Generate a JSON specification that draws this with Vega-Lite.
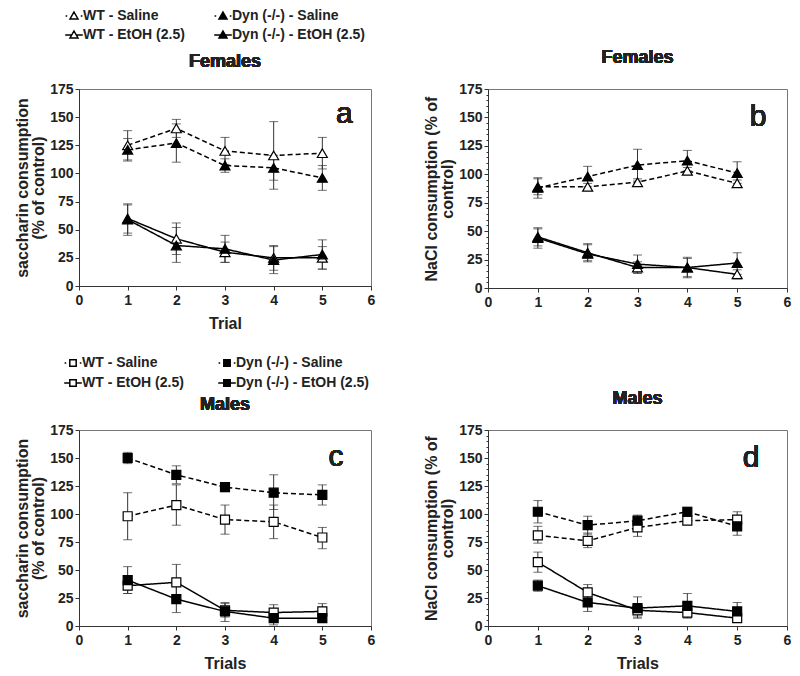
{
  "$schema": "https://vega.github.io/schema/vega-lite/v6.json",
  "background": "white",
  "padding": {"left": 14, "top": 9, "right": 5, "bottom": 5},
  "config": {
    "view": {"stroke": "#777", "strokeWidth": 1},
    "axis": {"labelFont": "Liberation Sans", "labelFontSize": 14, "labelFontWeight": "bold", "labelColor": "#222", "titleFont": "Liberation Sans", "titleFontSize": 16, "titleFontWeight": "bold", "titleColor": "#222", "domainColor": "#333", "tickColor": "#333", "tickSize": 4, "grid": false, "labelFlush": false, "labelOverlap": false, "titleLineHeight": 16},
    "axisX": {"titlePadding": 8, "labelPadding": 3},
    "axisY": {"titlePadding": 3, "labelPadding": 2},
    "legend": {"labelFont": "Liberation Sans", "labelFontSize": 14, "labelFontWeight": "bold", "labelColor": "#222", "symbolSize": 64, "symbolStrokeWidth": 1.5, "labelOffset": 2, "padding": 0, "rowPadding": 5, "columnPadding": 30, "gridAlign": "each"}
  },
  "datasets": {
    "d": [
      {"panel": "a", "series": "WT - Saline", "trial": 1, "mean": 125, "lo": 112, "hi": 138},
      {"panel": "a", "series": "WT - Saline", "trial": 2, "mean": 140, "lo": 132, "hi": 148},
      {"panel": "a", "series": "WT - Saline", "trial": 3, "mean": 120, "lo": 108, "hi": 132},
      {"panel": "a", "series": "WT - Saline", "trial": 4, "mean": 116, "lo": 86, "hi": 146},
      {"panel": "a", "series": "WT - Saline", "trial": 5, "mean": 118, "lo": 104, "hi": 132},
      {"panel": "a", "series": "Dyn (-/-) - Saline", "trial": 1, "mean": 121, "lo": 111, "hi": 131},
      {"panel": "a", "series": "Dyn (-/-) - Saline", "trial": 2, "mean": 127, "lo": 110, "hi": 144},
      {"panel": "a", "series": "Dyn (-/-) - Saline", "trial": 3, "mean": 107, "lo": 101, "hi": 113},
      {"panel": "a", "series": "Dyn (-/-) - Saline", "trial": 4, "mean": 105, "lo": 94, "hi": 116},
      {"panel": "a", "series": "Dyn (-/-) - Saline", "trial": 5, "mean": 96, "lo": 85, "hi": 107},
      {"panel": "a", "series": "WT - EtOH (2.5)", "trial": 1, "mean": 60, "lo": 47, "hi": 73},
      {"panel": "a", "series": "WT - EtOH (2.5)", "trial": 2, "mean": 42, "lo": 28, "hi": 56},
      {"panel": "a", "series": "WT - EtOH (2.5)", "trial": 3, "mean": 30, "lo": 21, "hi": 39},
      {"panel": "a", "series": "WT - EtOH (2.5)", "trial": 4, "mean": 25, "lo": 14, "hi": 36},
      {"panel": "a", "series": "WT - EtOH (2.5)", "trial": 5, "mean": 25, "lo": 15, "hi": 35},
      {"panel": "a", "series": "Dyn (-/-) - EtOH (2.5)", "trial": 1, "mean": 59, "lo": 45, "hi": 72},
      {"panel": "a", "series": "Dyn (-/-) - EtOH (2.5)", "trial": 2, "mean": 36, "lo": 21, "hi": 52},
      {"panel": "a", "series": "Dyn (-/-) - EtOH (2.5)", "trial": 3, "mean": 33, "lo": 21, "hi": 45},
      {"panel": "a", "series": "Dyn (-/-) - EtOH (2.5)", "trial": 4, "mean": 23, "lo": 11, "hi": 35},
      {"panel": "a", "series": "Dyn (-/-) - EtOH (2.5)", "trial": 5, "mean": 28, "lo": 15, "hi": 41},

      {"panel": "b", "series": "WT - Saline", "trial": 1, "mean": 89, "lo": 82, "hi": 96},
      {"panel": "b", "series": "WT - Saline", "trial": 2, "mean": 89, "lo": 86, "hi": 92},
      {"panel": "b", "series": "WT - Saline", "trial": 3, "mean": 93, "lo": 90, "hi": 96},
      {"panel": "b", "series": "WT - Saline", "trial": 4, "mean": 103, "lo": 100, "hi": 106},
      {"panel": "b", "series": "WT - Saline", "trial": 5, "mean": 92, "lo": 89, "hi": 95},
      {"panel": "b", "series": "Dyn (-/-) - Saline", "trial": 1, "mean": 88, "lo": 79, "hi": 97},
      {"panel": "b", "series": "Dyn (-/-) - Saline", "trial": 2, "mean": 98, "lo": 89, "hi": 107},
      {"panel": "b", "series": "Dyn (-/-) - Saline", "trial": 3, "mean": 108, "lo": 94, "hi": 122},
      {"panel": "b", "series": "Dyn (-/-) - Saline", "trial": 4, "mean": 112, "lo": 103, "hi": 121},
      {"panel": "b", "series": "Dyn (-/-) - Saline", "trial": 5, "mean": 101, "lo": 92, "hi": 111},
      {"panel": "b", "series": "WT - EtOH (2.5)", "trial": 1, "mean": 45, "lo": 37, "hi": 53},
      {"panel": "b", "series": "WT - EtOH (2.5)", "trial": 2, "mean": 31, "lo": 24, "hi": 38},
      {"panel": "b", "series": "WT - EtOH (2.5)", "trial": 3, "mean": 18, "lo": 13, "hi": 23},
      {"panel": "b", "series": "WT - EtOH (2.5)", "trial": 4, "mean": 18, "lo": 10, "hi": 26},
      {"panel": "b", "series": "WT - EtOH (2.5)", "trial": 5, "mean": 12, "lo": 8, "hi": 16},
      {"panel": "b", "series": "Dyn (-/-) - EtOH (2.5)", "trial": 1, "mean": 44, "lo": 35, "hi": 52},
      {"panel": "b", "series": "Dyn (-/-) - EtOH (2.5)", "trial": 2, "mean": 30, "lo": 23, "hi": 39},
      {"panel": "b", "series": "Dyn (-/-) - EtOH (2.5)", "trial": 3, "mean": 21, "lo": 13, "hi": 29},
      {"panel": "b", "series": "Dyn (-/-) - EtOH (2.5)", "trial": 4, "mean": 18, "lo": 9, "hi": 27},
      {"panel": "b", "series": "Dyn (-/-) - EtOH (2.5)", "trial": 5, "mean": 22, "lo": 12, "hi": 31},

      {"panel": "c", "series": "WT - Saline", "trial": 1, "mean": 98, "lo": 77, "hi": 119},
      {"panel": "c", "series": "WT - Saline", "trial": 2, "mean": 108, "lo": 90, "hi": 126},
      {"panel": "c", "series": "WT - Saline", "trial": 3, "mean": 95, "lo": 82, "hi": 108},
      {"panel": "c", "series": "WT - Saline", "trial": 4, "mean": 93, "lo": 78, "hi": 108},
      {"panel": "c", "series": "WT - Saline", "trial": 5, "mean": 79, "lo": 69, "hi": 88},
      {"panel": "c", "series": "Dyn (-/-) - Saline", "trial": 1, "mean": 150, "lo": 145, "hi": 155},
      {"panel": "c", "series": "Dyn (-/-) - Saline", "trial": 2, "mean": 135, "lo": 127, "hi": 143},
      {"panel": "c", "series": "Dyn (-/-) - Saline", "trial": 3, "mean": 124, "lo": 120, "hi": 128},
      {"panel": "c", "series": "Dyn (-/-) - Saline", "trial": 4, "mean": 119, "lo": 104, "hi": 135},
      {"panel": "c", "series": "Dyn (-/-) - Saline", "trial": 5, "mean": 117, "lo": 108, "hi": 126},
      {"panel": "c", "series": "WT - EtOH (2.5)", "trial": 1, "mean": 36, "lo": 29, "hi": 43},
      {"panel": "c", "series": "WT - EtOH (2.5)", "trial": 2, "mean": 39, "lo": 23, "hi": 55},
      {"panel": "c", "series": "WT - EtOH (2.5)", "trial": 3, "mean": 14, "lo": 8, "hi": 20},
      {"panel": "c", "series": "WT - EtOH (2.5)", "trial": 4, "mean": 12, "lo": 5, "hi": 19},
      {"panel": "c", "series": "WT - EtOH (2.5)", "trial": 5, "mean": 13, "lo": 6, "hi": 20},
      {"panel": "c", "series": "Dyn (-/-) - EtOH (2.5)", "trial": 1, "mean": 41, "lo": 29, "hi": 53},
      {"panel": "c", "series": "Dyn (-/-) - EtOH (2.5)", "trial": 2, "mean": 24, "lo": 12, "hi": 36},
      {"panel": "c", "series": "Dyn (-/-) - EtOH (2.5)", "trial": 3, "mean": 13, "lo": 4, "hi": 21},
      {"panel": "c", "series": "Dyn (-/-) - EtOH (2.5)", "trial": 4, "mean": 7, "lo": 1, "hi": 13},
      {"panel": "c", "series": "Dyn (-/-) - EtOH (2.5)", "trial": 5, "mean": 7, "lo": 4, "hi": 10},

      {"panel": "d", "series": "WT - Saline", "trial": 1, "mean": 81, "lo": 74, "hi": 89},
      {"panel": "d", "series": "WT - Saline", "trial": 2, "mean": 76, "lo": 70, "hi": 83},
      {"panel": "d", "series": "WT - Saline", "trial": 3, "mean": 88, "lo": 80, "hi": 96},
      {"panel": "d", "series": "WT - Saline", "trial": 4, "mean": 94, "lo": 91, "hi": 98},
      {"panel": "d", "series": "WT - Saline", "trial": 5, "mean": 95, "lo": 87, "hi": 102},
      {"panel": "d", "series": "Dyn (-/-) - Saline", "trial": 1, "mean": 102, "lo": 92, "hi": 112},
      {"panel": "d", "series": "Dyn (-/-) - Saline", "trial": 2, "mean": 90, "lo": 82, "hi": 98},
      {"panel": "d", "series": "Dyn (-/-) - Saline", "trial": 3, "mean": 94, "lo": 88, "hi": 99},
      {"panel": "d", "series": "Dyn (-/-) - Saline", "trial": 4, "mean": 102, "lo": 98, "hi": 106},
      {"panel": "d", "series": "Dyn (-/-) - Saline", "trial": 5, "mean": 89, "lo": 81, "hi": 97},
      {"panel": "d", "series": "WT - EtOH (2.5)", "trial": 1, "mean": 57, "lo": 48, "hi": 66},
      {"panel": "d", "series": "WT - EtOH (2.5)", "trial": 2, "mean": 30, "lo": 22, "hi": 37},
      {"panel": "d", "series": "WT - EtOH (2.5)", "trial": 3, "mean": 14, "lo": 8, "hi": 20},
      {"panel": "d", "series": "WT - EtOH (2.5)", "trial": 4, "mean": 12, "lo": 7, "hi": 17},
      {"panel": "d", "series": "WT - EtOH (2.5)", "trial": 5, "mean": 7, "lo": 5, "hi": 9},
      {"panel": "d", "series": "Dyn (-/-) - EtOH (2.5)", "trial": 1, "mean": 36, "lo": 31, "hi": 41},
      {"panel": "d", "series": "Dyn (-/-) - EtOH (2.5)", "trial": 2, "mean": 21, "lo": 13, "hi": 30},
      {"panel": "d", "series": "Dyn (-/-) - EtOH (2.5)", "trial": 3, "mean": 16, "lo": 7, "hi": 26},
      {"panel": "d", "series": "Dyn (-/-) - EtOH (2.5)", "trial": 4, "mean": 18, "lo": 8, "hi": 29},
      {"panel": "d", "series": "Dyn (-/-) - EtOH (2.5)", "trial": 5, "mean": 13, "lo": 5, "hi": 21}
    ]
  },
  "data": {"name": "d"},
  "columns": 2,
  "bounds": "flush",
  "align": "each",
  "spacing": {"row": 20, "column": 117},
  "resolve": {"scale": {"shape": "independent", "fill": "independent", "stroke": "independent", "strokeDash": "independent"}, "legend": {"shape": "independent", "fill": "independent", "stroke": "independent"}},
  "concat": [
    {
      "width": 292, "height": 60,
      "view": {"stroke": null},
      "transform": [{"filter": "false"}],
      "mark": {"type": "point", "filled": true, "stroke": "black", "strokeWidth": 1.5, "opacity": 1},
      "encoding": {
        "shape": {"field": "series", "type": "nominal", "scale": {"domain": ["WT - Saline", "Dyn (-/-) - Saline", "WT - EtOH (2.5)", "Dyn (-/-) - EtOH (2.5)"], "range": ["M-2.1,0L-1.7,0M1.7,0L2.1,0M0,-1L1,0.75L-1,0.75Z", "M-2.1,0L-1.7,0M1.7,0L2.1,0M0,-1L1,0.75L-1,0.75Z", "M-2.2,0L-0.57,0M0.57,0L2.2,0M0,-1L1,0.75L-1,0.75Z", "M-2.2,0L-0.57,0M0.57,0L2.2,0M0,-1L1,0.75L-1,0.75Z"]},
          "legend": {"title": null, "orient": "none", "direction": "horizontal", "legendX": -12, "legendY": 0, "columns": 2, "columnPadding": 26, "rowPadding": 5}},
        "stroke": {"field": "series", "type": "nominal", "scale": {"domain": ["WT - Saline", "Dyn (-/-) - Saline", "WT - EtOH (2.5)", "Dyn (-/-) - EtOH (2.5)"], "range": ["black", "black", "black", "black"]},
          "legend": {"title": null, "orient": "none", "direction": "horizontal", "legendX": -12, "legendY": 0, "columns": 2, "columnPadding": 26, "rowPadding": 5}},
        "fill": {"field": "series", "type": "nominal", "scale": {"domain": ["WT - Saline", "Dyn (-/-) - Saline", "WT - EtOH (2.5)", "Dyn (-/-) - EtOH (2.5)"], "range": ["white", "black", "white", "black"]},
          "legend": {"title": null, "orient": "none", "direction": "horizontal", "legendX": -12, "legendY": 0, "columns": 2, "columnPadding": 26, "rowPadding": 5}}
      }
    },
    {
      "width": 299, "height": 60,
      "view": {"stroke": null},
      "transform": [{"filter": "false"}],
      "mark": {"type": "point", "opacity": 0},
      "encoding": {}
    },
    {
      "width": 292, "height": 197,
      "transform": [{"filter": "datum.panel == 'a'"}],
      "layer": [
        {"mark": {"type": "errorbar", "ticks": {"size": 9}, "color": "#333", "thickness": 1},
         "encoding": {
           "x": {"field": "trial", "type": "quantitative", "scale": {"domain": [0, 6], "nice": false}, "axis": null},
           "y": {"field": "lo", "type": "quantitative", "scale": {"domain": [0, 175], "nice": false}, "axis": null},
           "y2": {"field": "hi"},
           "detail": {"field": "series"}}},
        {"mark": {"type": "line", "color": "black", "strokeWidth": 1.5},
         "encoding": {
           "x": {"field": "trial", "type": "quantitative", "scale": {"domain": [0, 6], "nice": false}, "axis": {"orient": "bottom", "values": [0, 1, 2, 3, 4, 5, 6], "title": "Trial"}},
           "y": {"field": "mean", "type": "quantitative", "scale": {"domain": [0, 175], "nice": false}, "axis": {"orient": "left", "values": [0, 25, 50, 75, 100, 125, 150, 175], "title": ["saccharin consumption", "(% of control)"]}},
           "strokeDash": {"field": "series", "type": "nominal", "scale": {"domain": ["WT - Saline", "Dyn (-/-) - Saline", "WT - EtOH (2.5)", "Dyn (-/-) - EtOH (2.5)"], "range": [[5, 3], [5, 3], [1, 0], [1, 0]]}, "legend": null}}},
        {"mark": {"type": "point", "shape": "triangle-up", "filled": true, "size": 100, "stroke": "black", "strokeWidth": 1.2, "opacity": 1},
         "encoding": {
           "x": {"field": "trial", "type": "quantitative", "axis": null},
           "y": {"field": "mean", "type": "quantitative", "axis": {"orient": "left", "values": [5, 10], "labels": false, "domain": false, "ticks": false, "title": null}},
           "fill": {"field": "series", "type": "nominal", "scale": {"domain": ["WT - Saline", "Dyn (-/-) - Saline", "WT - EtOH (2.5)", "Dyn (-/-) - EtOH (2.5)"], "range": ["white", "black", "white", "black"]}, "legend": null}}},
        {"mark": {"type": "text", "text": "a", "fontSize": 30, "fontWeight": "normal", "font": "Liberation Sans", "baseline": "alphabetic", "align": "center", "color": "#222"},
         "encoding": {"x": {"datum": 5.45, "type": "quantitative", "axis": null}, "y": {"datum": 145, "type": "quantitative", "axis": null}}},
        {"mark": {"type": "text", "text": "Females", "fontSize": 18, "fontWeight": "bold", "font": "Liberation Sans", "baseline": "middle", "align": "center", "color": "#222"},
         "encoding": {"x": {"datum": 3, "type": "quantitative", "axis": null}, "y": {"datum": 199.2, "type": "quantitative", "axis": null}}}
      ],
      "resolve": {"axis": {"x": "independent", "y": "independent"}}
    },
    {
      "width": 299, "height": 199,
      "transform": [{"filter": "datum.panel == 'b'"}],
      "layer": [
        {"mark": {"type": "errorbar", "ticks": {"size": 9}, "color": "#333", "thickness": 1},
         "encoding": {
           "x": {"field": "trial", "type": "quantitative", "scale": {"domain": [0, 6], "nice": false}, "axis": null},
           "y": {"field": "lo", "type": "quantitative", "scale": {"domain": [0, 175], "nice": false}, "axis": null},
           "y2": {"field": "hi"},
           "detail": {"field": "series"}}},
        {"mark": {"type": "line", "color": "black", "strokeWidth": 1.5},
         "encoding": {
           "x": {"field": "trial", "type": "quantitative", "scale": {"domain": [0, 6], "nice": false}, "axis": {"orient": "bottom", "values": [0, 1, 2, 3, 4, 5, 6], "title": null}},
           "y": {"field": "mean", "type": "quantitative", "scale": {"domain": [0, 175], "nice": false}, "axis": {"orient": "left", "values": [0, 25, 50, 75, 100, 125, 150, 175], "title": ["NaCl consumption (% of", "control)"]}},
           "strokeDash": {"field": "series", "type": "nominal", "scale": {"domain": ["WT - Saline", "Dyn (-/-) - Saline", "WT - EtOH (2.5)", "Dyn (-/-) - EtOH (2.5)"], "range": [[5, 3], [5, 3], [1, 0], [1, 0]]}, "legend": null}}},
        {"mark": {"type": "point", "shape": "triangle-up", "filled": true, "size": 100, "stroke": "black", "strokeWidth": 1.2, "opacity": 1},
         "encoding": {
           "x": {"field": "trial", "type": "quantitative", "axis": null},
           "y": {"field": "mean", "type": "quantitative", "axis": {"orient": "left", "values": [5, 10, 15, 20, 30, 35, 40, 45, 55, 60, 65, 70, 80, 85, 90, 95, 105, 110, 115, 120, 130, 135, 140, 145, 155, 160, 165, 170], "labels": false, "domain": false, "tickSize": 2, "title": null}},
           "fill": {"field": "series", "type": "nominal", "scale": {"domain": ["WT - Saline", "Dyn (-/-) - Saline", "WT - EtOH (2.5)", "Dyn (-/-) - EtOH (2.5)"], "range": ["white", "black", "white", "black"]}, "legend": null}}},
        {"mark": {"type": "text", "text": "b", "fontSize": 30, "fontWeight": "normal", "font": "Liberation Sans", "baseline": "alphabetic", "align": "center", "color": "#222"},
         "encoding": {"x": {"datum": 5.42, "type": "quantitative", "axis": null}, "y": {"datum": 142.5, "type": "quantitative", "axis": null}}},
        {"mark": {"type": "text", "text": "Females", "fontSize": 18, "fontWeight": "bold", "font": "Liberation Sans", "baseline": "middle", "align": "center", "color": "#222"},
         "encoding": {"x": {"datum": 3, "type": "quantitative", "axis": null}, "y": {"datum": 202.2, "type": "quantitative", "axis": null}}}
      ],
      "resolve": {"axis": {"x": "independent", "y": "independent"}}
    },
    {
      "width": 292, "height": 102,
      "view": {"stroke": null},
      "transform": [{"filter": "false"}],
      "mark": {"type": "point", "filled": true, "stroke": "black", "strokeWidth": 1.5, "opacity": 1},
      "encoding": {
        "shape": {"field": "series", "type": "nominal", "scale": {"domain": ["WT - Saline", "Dyn (-/-) - Saline", "WT - EtOH (2.5)", "Dyn (-/-) - EtOH (2.5)"], "range": ["M-2.1,0L-1.7,0M1.7,0L2.1,0M-0.8,-0.8L0.8,-0.8L0.8,0.8L-0.8,0.8Z", "M-2.1,0L-1.7,0M1.7,0L2.1,0M-0.8,-0.8L0.8,-0.8L0.8,0.8L-0.8,0.8Z", "M-2.2,0L-0.8,0M0.8,0L2.2,0M-0.8,-0.8L0.8,-0.8L0.8,0.8L-0.8,0.8Z", "M-2.2,0L-0.8,0M0.8,0L2.2,0M-0.8,-0.8L0.8,-0.8L0.8,0.8L-0.8,0.8Z"]},
          "legend": {"title": null, "orient": "none", "direction": "horizontal", "legendX": -13, "legendY": 48, "columns": 2, "columnPadding": 31, "rowPadding": 6}},
        "stroke": {"field": "series", "type": "nominal", "scale": {"domain": ["WT - Saline", "Dyn (-/-) - Saline", "WT - EtOH (2.5)", "Dyn (-/-) - EtOH (2.5)"], "range": ["black", "black", "black", "black"]},
          "legend": {"title": null, "orient": "none", "direction": "horizontal", "legendX": -13, "legendY": 48, "columns": 2, "columnPadding": 31, "rowPadding": 6}},
        "fill": {"field": "series", "type": "nominal", "scale": {"domain": ["WT - Saline", "Dyn (-/-) - Saline", "WT - EtOH (2.5)", "Dyn (-/-) - EtOH (2.5)"], "range": ["white", "black", "white", "black"]},
          "legend": {"title": null, "orient": "none", "direction": "horizontal", "legendX": -13, "legendY": 48, "columns": 2, "columnPadding": 31, "rowPadding": 6}}
      }
    },
    {
      "width": 299, "height": 102,
      "view": {"stroke": null},
      "transform": [{"filter": "false"}],
      "mark": {"type": "point", "opacity": 0},
      "encoding": {}
    },
    {
      "width": 292, "height": 196,
      "transform": [{"filter": "datum.panel == 'c'"}],
      "layer": [
        {"mark": {"type": "errorbar", "ticks": {"size": 9}, "color": "#333", "thickness": 1},
         "encoding": {
           "x": {"field": "trial", "type": "quantitative", "scale": {"domain": [0, 6], "nice": false}, "axis": null},
           "y": {"field": "lo", "type": "quantitative", "scale": {"domain": [0, 175], "nice": false}, "axis": null},
           "y2": {"field": "hi"},
           "detail": {"field": "series"}}},
        {"mark": {"type": "line", "color": "black", "strokeWidth": 1.5},
         "encoding": {
           "x": {"field": "trial", "type": "quantitative", "scale": {"domain": [0, 6], "nice": false}, "axis": {"orient": "bottom", "values": [0, 1, 2, 3, 4, 5, 6], "title": "Trials"}},
           "y": {"field": "mean", "type": "quantitative", "scale": {"domain": [0, 175], "nice": false}, "axis": {"orient": "left", "values": [0, 25, 50, 75, 100, 125, 150, 175], "title": ["saccharin consumption", "(% of control)"]}},
           "strokeDash": {"field": "series", "type": "nominal", "scale": {"domain": ["WT - Saline", "Dyn (-/-) - Saline", "WT - EtOH (2.5)", "Dyn (-/-) - EtOH (2.5)"], "range": [[5, 3], [5, 3], [1, 0], [1, 0]]}, "legend": null}}},
        {"mark": {"type": "point", "shape": "square", "filled": true, "size": 81, "stroke": "black", "strokeWidth": 1.2, "opacity": 1},
         "encoding": {
           "x": {"field": "trial", "type": "quantitative", "axis": null},
           "y": {"field": "mean", "type": "quantitative", "axis": {"orient": "left", "values": [5, 10], "labels": false, "domain": false, "ticks": false, "title": null}},
           "fill": {"field": "series", "type": "nominal", "scale": {"domain": ["WT - Saline", "Dyn (-/-) - Saline", "WT - EtOH (2.5)", "Dyn (-/-) - EtOH (2.5)"], "range": ["white", "black", "white", "black"]}, "legend": null}}},
        {"mark": {"type": "text", "text": "c", "fontSize": 30, "fontWeight": "normal", "font": "Liberation Sans", "baseline": "alphabetic", "align": "center", "color": "#222"},
         "encoding": {"x": {"datum": 5.28, "type": "quantitative", "axis": null}, "y": {"datum": 143, "type": "quantitative", "axis": null}}},
        {"mark": {"type": "text", "text": "Males", "fontSize": 18, "fontWeight": "bold", "font": "Liberation Sans", "baseline": "middle", "align": "center", "color": "#222"},
         "encoding": {"x": {"datum": 3, "type": "quantitative", "axis": null}, "y": {"datum": 197.3, "type": "quantitative", "axis": null}}}
      ],
      "resolve": {"axis": {"x": "independent", "y": "independent"}}
    },
    {
      "width": 299, "height": 196,
      "transform": [{"filter": "datum.panel == 'd'"}],
      "layer": [
        {"mark": {"type": "errorbar", "ticks": {"size": 9}, "color": "#333", "thickness": 1},
         "encoding": {
           "x": {"field": "trial", "type": "quantitative", "scale": {"domain": [0, 6], "nice": false}, "axis": null},
           "y": {"field": "lo", "type": "quantitative", "scale": {"domain": [0, 175], "nice": false}, "axis": null},
           "y2": {"field": "hi"},
           "detail": {"field": "series"}}},
        {"mark": {"type": "line", "color": "black", "strokeWidth": 1.5},
         "encoding": {
           "x": {"field": "trial", "type": "quantitative", "scale": {"domain": [0, 6], "nice": false}, "axis": {"orient": "bottom", "values": [0, 1, 2, 3, 4, 5, 6], "title": "Trials"}},
           "y": {"field": "mean", "type": "quantitative", "scale": {"domain": [0, 175], "nice": false}, "axis": {"orient": "left", "values": [0, 25, 50, 75, 100, 125, 150, 175], "title": ["NaCl consumption (% of", "control)"]}},
           "strokeDash": {"field": "series", "type": "nominal", "scale": {"domain": ["WT - Saline", "Dyn (-/-) - Saline", "WT - EtOH (2.5)", "Dyn (-/-) - EtOH (2.5)"], "range": [[5, 3], [5, 3], [1, 0], [1, 0]]}, "legend": null}}},
        {"mark": {"type": "point", "shape": "square", "filled": true, "size": 81, "stroke": "black", "strokeWidth": 1.2, "opacity": 1},
         "encoding": {
           "x": {"field": "trial", "type": "quantitative", "axis": null},
           "y": {"field": "mean", "type": "quantitative", "axis": {"orient": "left", "values": [5, 10, 15, 20, 30, 35, 40, 45, 55, 60, 65, 70, 80, 85, 90, 95, 105, 110, 115, 120, 130, 135, 140, 145, 155, 160, 165, 170], "labels": false, "domain": false, "tickSize": 2, "title": null}},
           "fill": {"field": "series", "type": "nominal", "scale": {"domain": ["WT - Saline", "Dyn (-/-) - Saline", "WT - EtOH (2.5)", "Dyn (-/-) - EtOH (2.5)"], "range": ["white", "black", "white", "black"]}, "legend": null}}},
        {"mark": {"type": "text", "text": "d", "fontSize": 30, "fontWeight": "normal", "font": "Liberation Sans", "baseline": "alphabetic", "align": "center", "color": "#222"},
         "encoding": {"x": {"datum": 5.28, "type": "quantitative", "axis": null}, "y": {"datum": 141.7, "type": "quantitative", "axis": null}}},
        {"mark": {"type": "text", "text": "Males", "fontSize": 18, "fontWeight": "bold", "font": "Liberation Sans", "baseline": "middle", "align": "center", "color": "#222"},
         "encoding": {"x": {"datum": 3, "type": "quantitative", "axis": null}, "y": {"datum": 202.4, "type": "quantitative", "axis": null}}}
      ],
      "resolve": {"axis": {"x": "independent", "y": "independent"}}
    }
  ]
}
